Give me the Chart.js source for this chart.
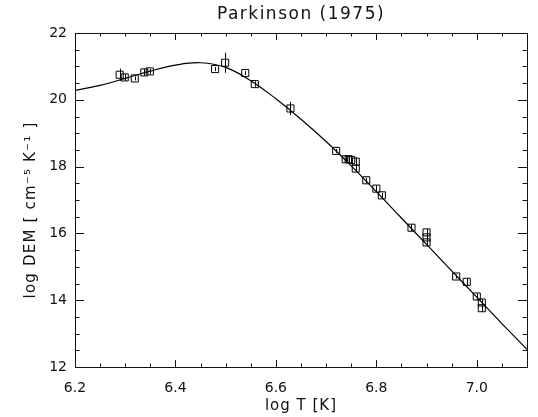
<!DOCTYPE html>
<html>
<head>
<meta charset="utf-8">
<script src="https://cdn.jsdelivr.net/npm/chart.js@4/dist/chart.umd.min.js"></script>
<style>
html,body{margin:0;padding:0;background:#fff;}
#wrap{width:538px;height:417px;position:relative;}
</style>
</head>
<body>
<div id="wrap"><canvas id="c" width="538" height="417"></canvas></div>
<script>
// Observed data (log T, log DEM, error)
const logT = [6.289, 6.299, 6.319, 6.338, 6.349, 6.479, 6.499, 6.539, 6.558, 6.629,
              6.720, 6.739, 6.745, 6.750, 6.759, 6.759, 6.780, 6.800, 6.811, 6.870,
              6.900, 6.900, 6.900, 6.959, 6.980, 7.000, 7.010, 7.010];
const logDEM = [20.75, 20.67, 20.64, 20.82, 20.85, 20.92, 21.11, 20.80, 20.47, 19.74,
                18.47, 18.22, 18.22, 18.20, 18.15, 17.94, 17.59, 17.34, 17.14, 16.17,
                16.03, 15.88, 15.73, 14.71, 14.55, 14.11, 13.93, 13.76];
const demErr = [0.18, 0.10, 0.06, 0.10, 0.08, 0.06, 0.30, 0.06, 0.08, 0.20,
                0.06, 0.10, 0.10, 0.10, 0.12, 0.10, 0.08, 0.10, 0.08, 0.10,
                0.10, 0.10, 0.10, 0.06, 0.12, 0.10, 0.10, 0.10];
// Fitted DEM curve
const curveT = [6.20, 6.25, 6.30, 6.35, 6.40, 6.45, 6.50, 6.55, 6.60, 6.65,
                6.70, 6.75, 6.80, 6.85, 6.90, 6.95, 7.00, 7.05, 7.10];
const curveDEM = [20.28, 20.43, 20.64, 20.86, 21.04, 21.11, 20.97, 20.57, 20.03, 19.42,
                  18.75, 18.02, 17.25, 16.46, 15.67, 14.88, 14.09, 13.30, 12.53];
// Axis ticks
const xTicks = [6.2, 6.4, 6.6, 6.8, 7.0];
const yTicks = [12, 14, 16, 18, 20, 22];
const xMinorStep = 0.05, yMinorStep = 0.5;

const titleText = 'Parkinson (1975)';
const xTitle = 'log T [K]';
const yTitle = 'log DEM [ cm\u207B\u2075 K\u207B\u00B9 ]';
const FONT = '"DejaVu Sans", sans-serif';

const decor = {
  id: 'decor',
  afterDatasetsDraw(chart) {
    const ctx = chart.ctx, a = chart.chartArea;
    const xs = chart.scales.x, ys = chart.scales.y;
    ctx.save();
    // error bars
    ctx.strokeStyle = '#000'; ctx.lineWidth = 1;
    ctx.beginPath();
    for (let i = 0; i < logT.length; i++) {
      const px = Math.round(xs.getPixelForValue(logT[i])) + 0.5;
      ctx.moveTo(px, ys.getPixelForValue(logDEM[i] - demErr[i]));
      ctx.lineTo(px, ys.getPixelForValue(logDEM[i] + demErr[i]));
    }
    ctx.stroke();
    // frame
    ctx.strokeStyle = '#111';
    ctx.strokeRect(Math.round(a.left) + 0.5, Math.round(a.top) + 0.5,
                   Math.round(a.right - a.left), Math.round(a.bottom - a.top));
    // ticks
    ctx.beginPath();
    const xMaj = 7, xMin = 3.5, yMaj = 9, yMin = 4.5;
    for (let v = xs.min; v <= xs.max + 1e-9; v += xMinorStep) {
      const isMaj = xTicks.some(t => Math.abs(t - v) < 1e-6);
      const len = isMaj ? xMaj : xMin;
      const px = Math.round(xs.getPixelForValue(v)) + 0.5;
      ctx.moveTo(px, a.bottom); ctx.lineTo(px, a.bottom - len);
      ctx.moveTo(px, a.top); ctx.lineTo(px, a.top + len);
    }
    for (let v = ys.min; v <= ys.max + 1e-9; v += yMinorStep) {
      const isMaj = yTicks.some(t => Math.abs(t - v) < 1e-6);
      const len = isMaj ? yMaj : yMin;
      const py = Math.round(ys.getPixelForValue(v)) + 0.5;
      ctx.moveTo(a.left, py); ctx.lineTo(a.left + len, py);
      ctx.moveTo(a.right, py); ctx.lineTo(a.right - len, py);
    }
    ctx.stroke();
    // titles
    ctx.fillStyle = '#111';
    ctx.textAlign = 'center';
    ctx.textBaseline = 'alphabetic';
    ctx.font = '17px ' + FONT;
    ctx.letterSpacing = '1.5px';
    ctx.fillText(titleText, (a.left + a.right) / 2, 19);
    ctx.font = '15px ' + FONT;
    ctx.letterSpacing = '1px';
    ctx.fillText(xTitle, (a.left + a.right) / 2, 410);
    ctx.letterSpacing = '1.2px';
    ctx.translate(35, 210);
    ctx.rotate(-Math.PI / 2);
    ctx.fillText(yTitle, 0, 0);
    ctx.restore();
  }
};

new Chart(document.getElementById('c'), {
  type: 'scatter',
  data: {
    datasets: [
      {
        type: 'line',
        data: curveT.map((t, i) => ({x: t, y: curveDEM[i]})),
        borderColor: '#000', borderWidth: 1.2, pointRadius: 0,
        tension: 0.4, fill: false
      },
      {
        data: logT.map((t, i) => ({x: t, y: logDEM[i]})),
        pointStyle: 'rect', pointRadius: 5, borderWidth: 1,
        borderColor: '#000', backgroundColor: 'rgba(0,0,0,0)'
      }
    ]
  },
  plugins: [decor],
  options: {
    responsive: false, animation: false,
    layout: {padding: {left: 0, right: 11, top: 33, bottom: 0}},
    plugins: {legend: {display: false}, tooltip: {enabled: false}, title: {display: false}},
    scales: {
      x: {
        type: 'linear', min: 6.2, max: 7.1,
        afterBuildTicks: s => { s.ticks = xTicks.map(v => ({value: v})); },
        afterFit: s => { s.height = 50; },
        grid: {display: false, drawTicks: false},
        border: {display: false},
        ticks: {padding: 13, color: '#111', font: {family: FONT, size: 14},
                callback: v => Number(v).toFixed(1), maxRotation: 0, autoSkip: false}
      },
      y: {
        min: 12, max: 22,
        afterBuildTicks: s => { s.ticks = yTicks.map(v => ({value: v})); },
        afterFit: s => { s.width = 75; },
        grid: {display: false, drawTicks: false},
        border: {display: false},
        ticks: {padding: 8, color: '#111', font: {family: FONT, size: 14},
                callback: v => String(v)}
      }
    }
  }
});
</script>
</body>
</html>
